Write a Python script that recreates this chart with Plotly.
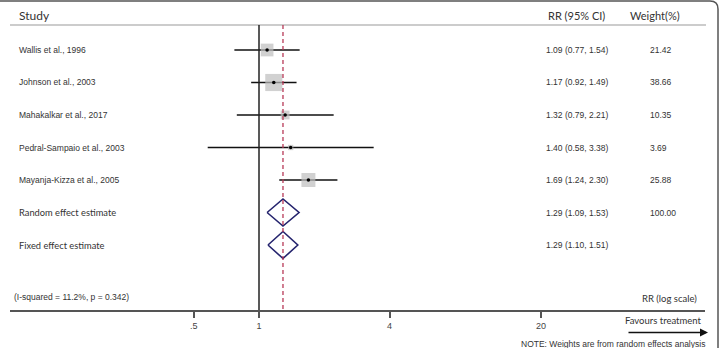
import math
import plotly.graph_objects as go

# ---------------- data ----------------
studies = ["Wallis et al., 1996", "Johnson et al., 2003", "Mahakalkar et al., 2017",
           "Pedral-Sampaio et al., 2003", "Mayanja-Kizza et al., 2005"]
rr = [1.09, 1.17, 1.32, 1.40, 1.69]
ci_lo = [0.77, 0.92, 0.79, 0.58, 1.24]
ci_hi = [1.54, 1.49, 2.21, 3.38, 2.30]
weights = [21.42, 38.66, 10.35, 3.69, 25.88]

pooled_labels = ["Random effect estimate", "Fixed effect estimate"]
pooled_rr = [1.29, 1.29]
pooled_lo = [1.09, 1.10]
pooled_hi = [1.53, 1.51]
pooled_weight = ["100.00", ""]

tick_vals = [0.5, 1, 4, 20]
tick_text = [".5", "1", "4", "20"]
heterogeneity = "(I-squared = 11.2%, p = 0.342)"
null_value = 1

# ---------------- layout helpers ----------------
W, H = 720, 348
ROW0, ROWH = 50, 32.5          # pixel centre of first row, row pitch
AXIS_PX = 310                  # pixel y of x-axis line
PX_PER_DEC = 216.8
X_LEFT, X_RIGHT = 10, 705      # x-axis domain in pixels
ONE_PX = 259                   # pixel of RR = 1

r0 = math.log10(null_value) - (ONE_PX - X_LEFT) / PX_PER_DEC
r1 = r0 + (X_RIGHT - X_LEFT) / PX_PER_DEC

def py(p):  # pixel y -> paper y
    return (H - p) / H

def px(p):  # pixel x -> paper x
    return p / W

TXT = "#333333"
ARIAL = "Liberation Sans"
CAL = "Lato"

fig = go.Figure()

n = len(studies)
rows = list(range(n))
prow = [n + i for i in range(len(pooled_labels))]

# CI lines
cx, cy = [], []
for i in range(n):
    cx += [ci_lo[i], ci_hi[i], None]
    cy += [rows[i], rows[i], None]
fig.add_trace(go.Scatter(x=cx, y=cy, mode="lines",
                         line=dict(color="#111111", width=1.5),
                         hoverinfo="skip", showlegend=False))
# weight boxes
fig.add_trace(go.Scatter(x=rr, y=rows, mode="markers",
                         marker=dict(symbol="square", color="#bdbdbd",
                                     size=[2.75 * math.sqrt(w) for w in weights],
                                     line=dict(width=0)),
                         showlegend=False))
# point estimates
fig.add_trace(go.Scatter(x=rr, y=rows, mode="markers",
                         marker=dict(symbol="circle", color="#000000", size=3.5),
                         showlegend=False))
# diamonds
hh = 13.5 / ROWH
for j in range(len(pooled_labels)):
    y0 = prow[j]
    fig.add_trace(go.Scatter(
        x=[pooled_lo[j], pooled_rr[j], pooled_hi[j], pooled_rr[j], pooled_lo[j]],
        y=[y0, y0 - hh, y0, y0 + hh, y0],
        mode="lines", line=dict(color="#25246e", width=1.6),
        showlegend=False, hoverinfo="skip"))

ann = []
def add_text(text, x, y, size, font=ARIAL, anchor="left", color=TXT, xref="paper", yref="paper"):
    ann.append(dict(text=text, x=x, y=y, xref=xref, yref=yref, showarrow=False,
                    xanchor=anchor, yanchor="middle",
                    font=dict(family=font, size=size, color=color)))

# headers
add_text("Study", px(17), py(15), 12, CAL)
add_text("RR (95% CI)", px(546), py(15), 11, CAL)
add_text("Weight(%)", px(628), py(15), 11, CAL)

# study rows
for i in range(n):
    yy = py(ROW0 + ROWH * rows[i])
    add_text(studies[i], px(17), yy, 8.5)
    add_text(f"{rr[i]:.2f} ({ci_lo[i]:.2f}, {ci_hi[i]:.2f})", px(544), yy, 8.5)
    add_text(f"{weights[i]:.2f}", px(648), yy, 8.5)
for j in range(len(pooled_labels)):
    yy = py(ROW0 + ROWH * prow[j])
    add_text(pooled_labels[j], px(17), yy, 9.3, CAL)
    add_text(f"{pooled_rr[j]:.2f} ({pooled_lo[j]:.2f}, {pooled_hi[j]:.2f})", px(544), yy, 8.5)
    if pooled_weight[j]:
        add_text(pooled_weight[j], px(648), yy, 8.5)

add_text(heterogeneity, px(12), py(297), 8.5)
add_text("RR (log scale)", px(699), py(298), 9.5, CAL, anchor="right")
add_text("Favours treatment", px(704), py(320), 9.5, CAL, anchor="right")
add_text("NOTE: Weights are from random effects analysis", px(707), py(344), 8.5, anchor="right")

# arrow
ann.append(dict(x=px(708), y=py(332.5), ax=-81, ay=0,
                xref="paper", yref="paper", axref="pixel", ayref="pixel",
                showarrow=True, arrowhead=2, arrowsize=1, arrowwidth=1.6,
                arrowcolor="#111111", text=""))

shapes = [
    # header rule
    dict(type="line", xref="paper", yref="paper", x0=px(10), x1=px(706),
         y0=py(25), y1=py(25), line=dict(color="#999999", width=1.2)),
    # null line
    dict(type="line", xref="x", yref="paper", x0=null_value, x1=null_value,
         y0=py(25), y1=py(AXIS_PX), line=dict(color="#222222", width=1.5)),
    # pooled estimate dashed line
    dict(type="line", xref="x", yref="paper", x0=pooled_rr[0], x1=pooled_rr[0],
         y0=py(25), y1=py(AXIS_PX), line=dict(color="#b83a58", width=1.3, dash="4px,3px")),
    # frame
    dict(type="path", xref="paper", yref="paper",
         path=(f"M {px(-2)},{py(400)} L {px(-2)},{py(1)} L {px(710)},{py(1)} "
               f"Q {px(718)},{py(1)} {px(718)},{py(9)} L {px(718)},{py(400)}"),
         line=dict(color="#555555", width=1.5)),
]

fig.update_layout(
    width=W, height=H,
    margin=dict(l=0, r=0, t=0, b=0),
    paper_bgcolor="white", plot_bgcolor="white",
    showlegend=False,
    annotations=ann, shapes=shapes,
    xaxis=dict(type="log", range=[r0, r1], domain=[px(X_LEFT), px(X_RIGHT)],
               tickvals=tick_vals, ticktext=tick_text,
               ticks="outside", ticklen=6, tickwidth=1.5, tickcolor="#555555",
               showline=True, linecolor="#555555", linewidth=1.8,
               showgrid=False, zeroline=False,
               tickfont=dict(family=ARIAL, size=9, color="#444444")),
    yaxis=dict(range=[(AXIS_PX - ROW0) / ROWH, -ROW0 / ROWH],
               domain=[py(AXIS_PX), 1],
               showticklabels=False, showgrid=False, zeroline=False, showline=False),
)

fig.write_html("out.html")
